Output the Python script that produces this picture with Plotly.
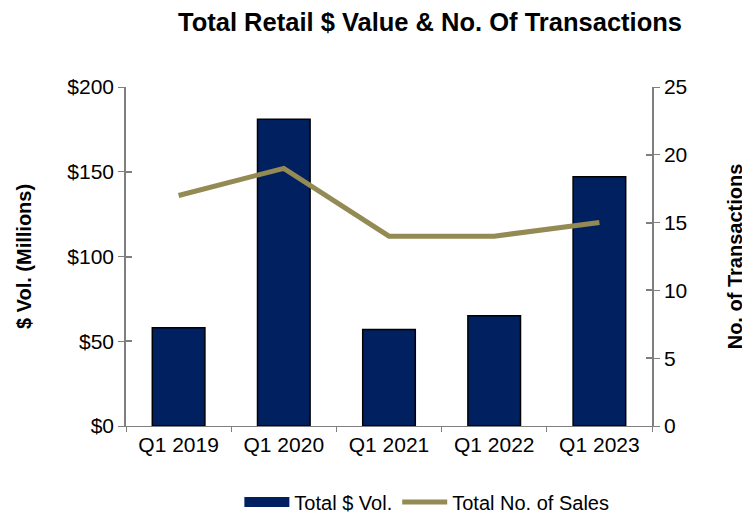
import plotly.graph_objects as go

categories = ["Q1 2019", "Q1 2020", "Q1 2021", "Q1 2022", "Q1 2023"]
dollar_vol = [58, 181, 57, 65, 147]
num_sales = [17, 19, 14, 14, 15]
y1_ticks = [0, 50, 100, 150, 200]
y1_labels = ["$0", "$50", "$100", "$150", "$200"]

font = "Liberation Sans, Arial, sans-serif"
axis_grey = "#7f7f7f"
navy = "#002060"
khaki = "#948A54"

fig = go.Figure()
fig.add_trace(go.Bar(x=categories, y=dollar_vol, name="Total $ Vol.", showlegend=False,
                     marker=dict(color=navy, line=dict(color="black", width=1.5)),
                     width=0.5))
fig.add_trace(go.Scatter(x=categories, y=num_sales, name="Total No. of Sales", yaxis="y2",
                         mode="lines", line=dict(color=khaki, width=5), showlegend=False))
# legend entries
fig.add_trace(go.Scatter(x=[categories[0]], y=[None], name="Total $ Vol.", mode="lines",
                         line=dict(color=navy, width=10), hoverinfo="skip"))
fig.add_trace(go.Scatter(x=[categories[0]], y=[None], name="Total No. of Sales", mode="lines",
                         line=dict(color=khaki, width=5), hoverinfo="skip"))
# invisible helpers so the inside-tick axes are drawn
fig.add_trace(go.Scatter(x=[categories[0]], y=[0], yaxis="y3", showlegend=False,
                         mode="markers", marker=dict(opacity=0), hoverinfo="skip"))
fig.add_trace(go.Scatter(x=[categories[0]], y=[0], yaxis="y4", showlegend=False,
                         mode="markers", marker=dict(opacity=0), hoverinfo="skip"))

fig.update_layout(
    width=750, height=513,
    margin=dict(l=118, r=106, t=79, b=95, autoexpand=False),
    paper_bgcolor="white", plot_bgcolor="white",
    font=dict(family=font, size=21, color="black"),
    title=dict(text="<b>Total Retail $ Value & No. Of Transactions</b>",
               x=0.5627, xanchor="center", y=0.973, yanchor="middle",
               font=dict(size=25.5, family=font)),
    xaxis=dict(showline=True, linecolor=axis_grey, linewidth=1, ticks="outside",
               tickson="boundaries", ticklen=5, tickcolor=axis_grey, showgrid=False,
               tickfont=dict(size=21), automargin=False),
    yaxis=dict(range=[0, 200], tickvals=y1_ticks, ticktext=y1_labels, showgrid=False,
               showline=True, linecolor=axis_grey, linewidth=1.5, ticks="outside",
               ticklen=6, tickcolor=axis_grey, tickfont=dict(size=21), automargin=False,
               title=dict(text="<b>$ Vol. (Millions)</b>", font=dict(size=20), standoff=30)),
    yaxis2=dict(range=[0, 25], dtick=5, overlaying="y", side="right", showgrid=False,
                showline=True, linecolor=axis_grey, linewidth=1.5, ticks="outside",
                ticklen=6, tickcolor=axis_grey, tickfont=dict(size=21), automargin=False,
                title=dict(text="<b>No. of Transactions</b>", font=dict(size=20), standoff=42)),
    yaxis3=dict(range=[0, 200], tickvals=y1_ticks, overlaying="y", side="left",
                showticklabels=False, ticks="inside", ticklen=6, tickcolor=axis_grey,
                tickwidth=1.5, showgrid=False, showline=False, zeroline=False),
    yaxis4=dict(range=[0, 25], dtick=5, overlaying="y", side="right",
                showticklabels=False, ticks="inside", ticklen=6, tickcolor=axis_grey,
                tickwidth=1.5, showgrid=False, showline=False, zeroline=False),
    legend=dict(orientation="h", x=0.572, xanchor="center", y=-0.224, yanchor="middle",
                font=dict(size=20), traceorder="normal", itemwidth=45),
    bargap=0.5,
)

fig.write_html("out.html")
